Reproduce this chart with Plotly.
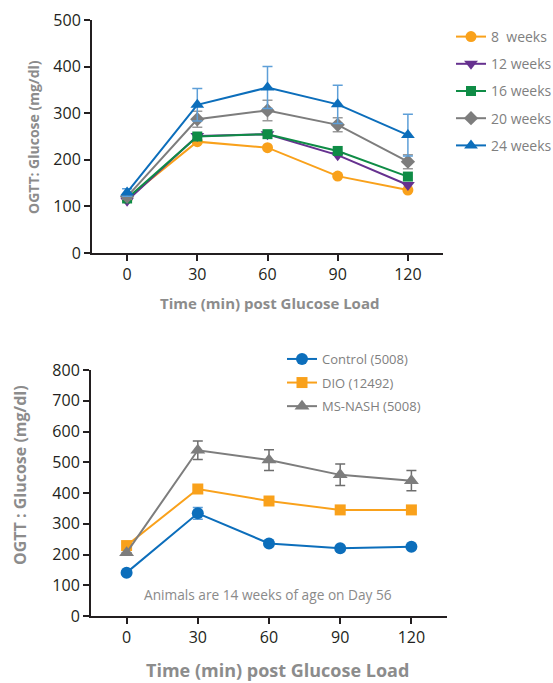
import plotly.graph_objects as go

# ---------------- data ----------------
time_min = [0, 30, 60, 90, 120]

# top panel: OGTT by age
age_labels = ["8\u00a0 weeks", "12 weeks", "16 weeks", "20 weeks", "24 weeks"]
wk8 = [117, 239, 226, 165, 135]
wk12 = [112, 251, 255, 210, 146]
wk16 = [117, 250, 255, 219, 164]
wk20 = [121, 287, 306, 275, 196]
wk24 = [130, 318, 355, 319, 253]
wk20_err = [5, 17, 22, 15, 15]
wk24_err = [8, 35, 45, 41, 45]

# bottom panel: diet groups
group_labels = ["Control (5008)", "DIO (12492)", "MS-NASH (5008)"]
control = [141, 334, 236, 220, 225]
dio = [229, 413, 374, 345, 345]
msnash = [206, 539, 507, 459, 440]
control_err = [0, 19, 0, 0, 0]
msnash_err = [0, 30, 34, 35, 33]

# ---------------- style ----------------
FONT = "Open Sans"
ORANGE = "#F9A11B"
PURPLE = "#66318F"
GREEN = "#0F8C46"
GREY = "#7D7D7D"
BLUE = "#0C6EBB"
AXIS = "#231F20"
TITLE_GREY = "#8C8C8C"

fig = go.Figure()

top_series = [
    (wk8, None, ORANGE, "circle", 11, None),
    (wk12, None, PURPLE, "triangle-down", 12, None),
    (wk16, None, GREEN, "square", 10, None),
    (wk20, wk20_err, GREY, "diamond", 11, "#9A9A9A"),
    (wk24, wk24_err, BLUE, "triangle-up", 12, "#5E9FD8"),
]
for i, (vals, err, col, sym, sz, ecol) in enumerate(top_series):
    kw = {}
    if err is not None:
        kw["error_y"] = dict(type="data", array=err, visible=True, color=ecol,
                             thickness=1.5, width=5)
    fig.add_trace(go.Scatter(
        x=time_min, y=vals, name=age_labels[i], mode="lines+markers",
        line=dict(color=col, width=2),
        marker=dict(symbol=sym, size=sz, color=col),
        xaxis="x", yaxis="y", legend="legend", legendgroup="a%d" % i, **kw))

bottom_series = [
    (control, control_err, BLUE, "circle", 12, "#5E9FD8"),
    (dio, None, ORANGE, "square", 11, None),
    (msnash, msnash_err, GREY, "triangle-up", 13, "#6E6E6E"),
]
for i, (vals, err, col, sym, sz, ecol) in enumerate(bottom_series):
    kw = {}
    if err is not None:
        kw["error_y"] = dict(type="data", array=err, visible=True, color=ecol,
                             thickness=1.5, width=5)
    fig.add_trace(go.Scatter(
        x=time_min, y=vals, name=group_labels[i], mode="lines+markers",
        line=dict(color=col, width=2),
        marker=dict(symbol=sym, size=sz, color=col),
        xaxis="x2", yaxis="y2", legend="legend2", legendgroup="b%d" % i, **kw))

W, H = 553, 683


def px_x(p):
    return p / W


def px_y(p):
    return 1 - p / H


axis_common = dict(showline=True, linecolor=AXIS, linewidth=2, ticks="outside",
                   ticklen=6, tickwidth=2, tickcolor=AXIS, showgrid=False,
                   zeroline=False, automargin=False,
                   tickfont=dict(family=FONT, size=16, color=AXIS))

fig.update_layout(
    width=W, height=H, margin=dict(l=0, r=0, t=0, b=0, autoexpand=False),
    paper_bgcolor="white", plot_bgcolor="white",
    xaxis=dict(domain=[px_x(92), px_x(443)], range=[-15, 135], tickvals=time_min,
               anchor="y", **axis_common),
    yaxis=dict(domain=[px_y(253), px_y(20)], range=[0, 500], dtick=100,
               anchor="x", **axis_common),
    xaxis2=dict(domain=[px_x(91), px_x(447)], range=[-15, 135], tickvals=time_min,
                anchor="y2", **axis_common),
    yaxis2=dict(domain=[px_y(616), px_y(370)], range=[0, 800], dtick=100,
                anchor="x2", **axis_common),
    legend=dict(x=px_x(451), y=px_y(21), xanchor="left", yanchor="top",
                traceorder="grouped", tracegroupgap=6,
                font=dict(family=FONT, size=14, color="#7F7F7F"),
                bgcolor="rgba(0,0,0,0)"),
    legend2=dict(x=px_x(282), y=px_y(344), xanchor="left", yanchor="top",
                 traceorder="grouped", tracegroupgap=3.7,
                 font=dict(family=FONT, size=13, color="#7F7F7F"),
                 bgcolor="rgba(0,0,0,0)"),
    showlegend=True,
)

annotations = [
    dict(text="<b>OGTT: Glucose (mg/dl)</b>", x=px_x(33), y=px_y(137),
         font=dict(family=FONT, size=14, color=TITLE_GREY), textangle=-90),
    dict(text="<b>Time (min) post Glucose Load</b>", x=px_x(269), y=px_y(303),
         font=dict(family=FONT, size=15, color=TITLE_GREY)),
    dict(text="<b>OGTT : Glucose (mg/dl)</b>", x=px_x(20), y=px_y(475),
         font=dict(family=FONT, size=16, color=TITLE_GREY), textangle=-90),
    dict(text="<b>Time (min) post Glucose Load</b>", x=px_x(277), y=px_y(670),
         font=dict(family=FONT, size=18, color=TITLE_GREY)),
    dict(text="Animals are 14 weeks of age on Day 56", x=px_x(268), y=px_y(594),
         font=dict(family=FONT, size=13.7, color="#8A8A8A")),
]
for a in annotations:
    a.update(xref="paper", yref="paper", showarrow=False, xanchor="center",
             yanchor="middle")
fig.update_layout(annotations=annotations)

fig.write_html("out.html")
